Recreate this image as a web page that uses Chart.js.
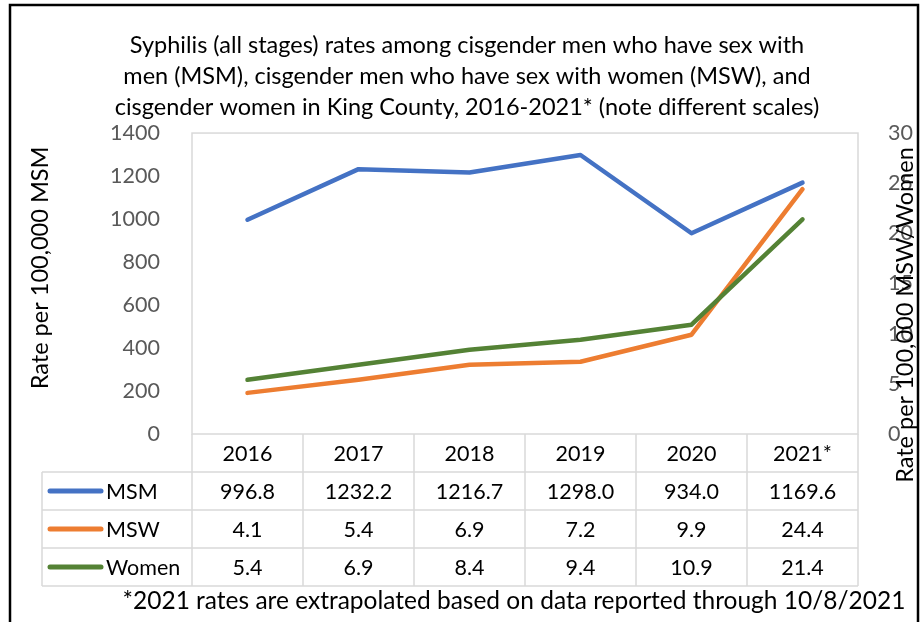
<!DOCTYPE html>
<html>
<head>
<meta charset="utf-8">
<script src="https://cdn.jsdelivr.net/npm/chart.js@4.4.0/dist/chart.umd.min.js"></script>
<style>
  body { margin: 0; background: #fff; }
  #wrap { width: 922px; height: 622px; }
</style>
</head>
<body>
<div id="wrap"><canvas id="grafico" width="922" height="622"></canvas></div>
<script>
// Dados do gráfico
const anos = ['2016', '2017', '2018', '2019', '2020', '2021*'];
const taxasMSM = [996.8, 1232.2, 1216.7, 1298.0, 934.0, 1169.6];
const taxasMSW = [4.1, 5.4, 6.9, 7.2, 9.9, 24.4];
const taxasMulheres = [5.4, 6.9, 8.4, 9.4, 10.9, 21.4];
const nomesSeries = ['MSM', 'MSW', 'Women'];
const coresSeries = ['#4472C4', '#ED7D31', '#548235'];
const ticksEsquerda = [0, 200, 400, 600, 800, 1000, 1200, 1400];
const ticksDireita = [0, 5, 10, 15, 20, 25, 30];

const fonte = 'Lato, Carlito, sans-serif';
const cinzaGrade = '#d9d9d9';

// Plugin que desenha moldura, títulos dos eixos, tabela de dados e nota
const tabelaPlugin = {
  id: 'tabela',
  beforeDraw(chart) {
    const ctx = chart.ctx;
    ctx.save();
    ctx.fillStyle = '#fff';
    ctx.fillRect(0, 0, chart.width, chart.height);
    ctx.restore();
  },
  afterDraw(chart) {
    const ctx = chart.ctx;
    const area = chart.chartArea;
    const x = chart.scales.x;
    const linhas = [taxasMSM, taxasMSW, taxasMulheres];
    const alturaLinha = 38;
    const esquerdaTabela = 42;
    ctx.save();

    // borda da área do gráfico
    ctx.strokeStyle = cinzaGrade;
    ctx.lineWidth = 1.5;
    ctx.strokeRect(area.left, area.top, area.right - area.left, area.bottom - area.top);

    // linhas da tabela
    const fundo = area.bottom + alturaLinha * 4;
    ctx.beginPath();
    for (let r = 1; r <= 4; r++) {
      const y = area.bottom + alturaLinha * r;
      ctx.moveTo(esquerdaTabela, y);
      ctx.lineTo(area.right, y);
    }
    ctx.moveTo(esquerdaTabela, area.bottom + alturaLinha);
    ctx.lineTo(esquerdaTabela, fundo);
    const larguraCol = (area.right - area.left) / anos.length;
    for (let c = 0; c <= anos.length; c++) {
      const xl = area.left + larguraCol * c;
      ctx.moveTo(xl, area.bottom);
      ctx.lineTo(xl, fundo);
    }
    ctx.stroke();

    // textos da tabela
    ctx.fillStyle = '#000';
    ctx.font = '21.5px ' + fonte;
    ctx.textAlign = 'center';
    ctx.textBaseline = 'middle';
    anos.forEach((ano, i) => {
      const cx = x.getPixelForValue(i);
      ctx.fillText(ano, cx, area.bottom + alturaLinha / 2 + 1);
      linhas.forEach((serie, s) => {
        ctx.fillText(serie[i].toFixed(1), cx, area.bottom + alturaLinha * (s + 1.5) + 1);
      });
    });

    // legenda dentro da tabela
    nomesSeries.forEach((nome, s) => {
      const cy = area.bottom + alturaLinha * (s + 1.5);
      ctx.strokeStyle = coresSeries[s];
      ctx.lineWidth = 5;
      ctx.lineCap = 'round';
      ctx.beginPath();
      ctx.moveTo(50, cy);
      ctx.lineTo(101, cy);
      ctx.stroke();
      ctx.textAlign = 'left';
      ctx.fillText(nome, 106, cy + 1);
    });

    // títulos dos eixos
    ctx.font = '23.5px ' + fonte;
    ctx.textAlign = 'center';
    ctx.fillStyle = '#000';
    ctx.save();
    ctx.translate(40, 268);
    ctx.rotate(-Math.PI / 2);
    ctx.fillText('Rate per 100,000 MSM', 0, 0);
    ctx.restore();
    ctx.save();
    ctx.translate(905, 315);
    ctx.rotate(-Math.PI / 2);
    ctx.fillText('Rate per 100,000 MSW/Women', 0, 0);
    ctx.restore();

    // nota de rodapé
    ctx.font = '24.5px ' + fonte;
    ctx.fillText('*2021 rates are extrapolated based on data reported through 10/8/2021', 514, 601);

    // moldura preta
    ctx.strokeStyle = '#000';
    ctx.lineWidth = 2.5;
    ctx.lineCap = 'butt';
    ctx.beginPath();
    ctx.moveTo(10, chart.height);
    ctx.lineTo(10, 5);
    ctx.lineTo(918, 5);
    ctx.lineTo(918, chart.height);
    ctx.stroke();
    ctx.restore();
  }
};

const ctxGrafico = document.getElementById('grafico').getContext('2d');
new Chart(ctxGrafico, {
  type: 'line',
  data: {
    labels: anos,
    datasets: [
      { label: 'MSM', data: taxasMSM, yAxisID: 'y', borderColor: coresSeries[0], order: 2 },
      { label: 'MSW', data: taxasMSW, yAxisID: 'y1', borderColor: coresSeries[1], order: 1 },
      { label: 'Women', data: taxasMulheres, yAxisID: 'y1', borderColor: coresSeries[2], order: 0 }
    ]
  },
  options: {
    responsive: false,
    animation: false,
    layout: { padding: { left: 12, right: 0, top: 0, bottom: 0 } },
    elements: {
      line: { borderWidth: 4.5, tension: 0, borderCapStyle: 'round', borderJoinStyle: 'round' },
      point: { radius: 0 }
    },
    plugins: {
      legend: { display: false },
      tooltip: { enabled: false },
      title: {
        display: true,
        text: [
          'Syphilis (all stages) rates among cisgender men who have sex with',
          'men (MSM), cisgender men who have sex with women (MSW), and',
          'cisgender women in King County, 2016-2021* (note different scales)'
        ],
        color: '#000',
        font: { family: fonte, size: 23.5, weight: 'normal', lineHeight: 1.32 },
        padding: { top: 30, bottom: 10 }
      }
    },
    scales: {
      x: {
        offset: true,
        ticks: { display: false },
        grid: { display: false },
        border: { display: false },
        afterFit: (s) => { s.height = 188; }
      },
      y: {
        position: 'left',
        min: 0,
        max: 1400,
        afterBuildTicks: (s) => { s.ticks = ticksEsquerda.map(v => ({ value: v })); },
        ticks: { color: '#595959', font: { family: fonte, size: 21.5 }, padding: 24, callback: (v) => String(v) },
        grid: { display: false },
        border: { display: false },
        afterFit: (s) => { s.width = 180; }
      },
      y1: {
        position: 'right',
        min: 0,
        max: 30,
        afterBuildTicks: (s) => { s.ticks = ticksDireita.map(v => ({ value: v })); },
        ticks: { color: '#595959', font: { family: fonte, size: 21.5 }, padding: 22, callback: (v) => String(v) },
        grid: { display: false },
        border: { display: false },
        afterFit: (s) => { s.width = 64; }
      }
    }
  },
  plugins: [tabelaPlugin]
});
</script>
</body>
</html>
